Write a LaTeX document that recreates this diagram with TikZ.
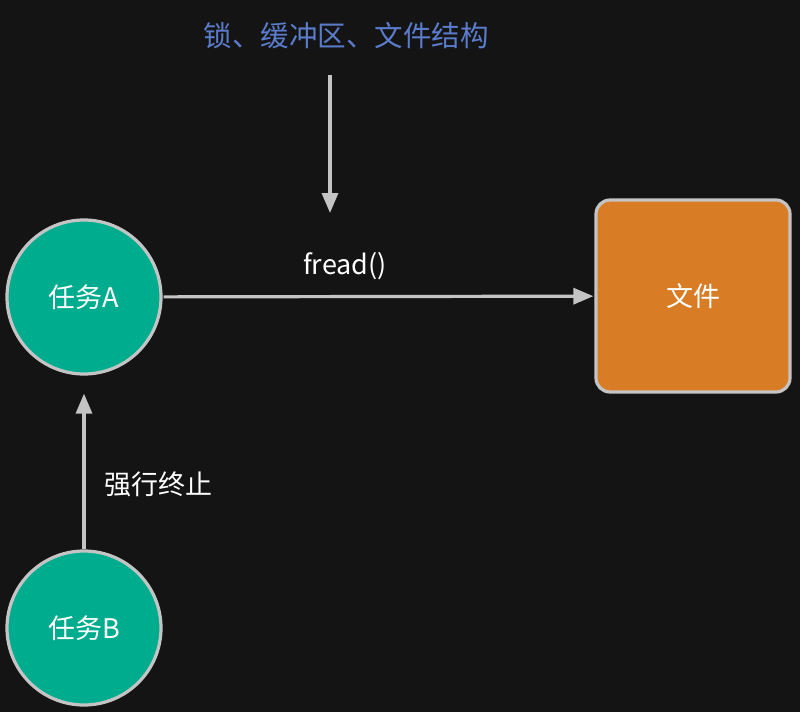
\documentclass[tikz,border=0pt]{standalone}
\usepackage{fontspec}
\setmainfont{Noto Sans CJK SC}
\usetikzlibrary{arrows.meta}
\definecolor{bg}{HTML}{141414}
\definecolor{teal}{HTML}{00AC8E}
\definecolor{orng}{HTML}{D97C26}
\definecolor{edge}{HTML}{C4C4C4}
\definecolor{lbl}{HTML}{5A7CCB}
\tikzset{
  task/.style={circle, fill=teal, draw=edge, line width=3.2pt, minimum size=154pt, inner sep=0pt, text=white, font=\fontsize{27}{31}\selectfont},
  filebox/.style={rectangle, rounded corners=14pt, fill=orng, draw=edge, line width=3.2pt, minimum width=194pt, minimum height=192pt, text=white, font=\fontsize{27}{31}\selectfont},
  conn/.style={draw=edge, line width=3.2pt, -{Triangle[length=20pt,width=16pt]}},
  txt/.style={text=white, font=\fontsize{27}{31}\selectfont},
}
\begin{document}
\begin{tikzpicture}[x=1pt,y=-1pt]
\fill[bg] (0,0) rectangle (800,712);
\useasboundingbox (0,0) rectangle (800,712);
\node[task] (A) at (84,297) {任务A};
\node[task] (B) at (84,628) {任务B};
\node[filebox] (F) at (693,296) {文件};
\node[txt, text=lbl, font=\fontsize{28.5}{32}\selectfont] (top) at (346,36) {锁、缓冲区、文件结构};
\node[txt] (fr) at (345,266) {fread()};
\node[txt] (kill) at (158,484) {强行终止};
\coordinate (topstart) at (330,75);
\coordinate (topend) at (330,213);
\draw[conn] (topstart) -- (topend);
\draw[conn, shorten <=1pt, shorten >=1pt] (A) -- (F);
\draw[conn, shorten >=18pt] (B) -- (A);
\end{tikzpicture}
\end{document}
